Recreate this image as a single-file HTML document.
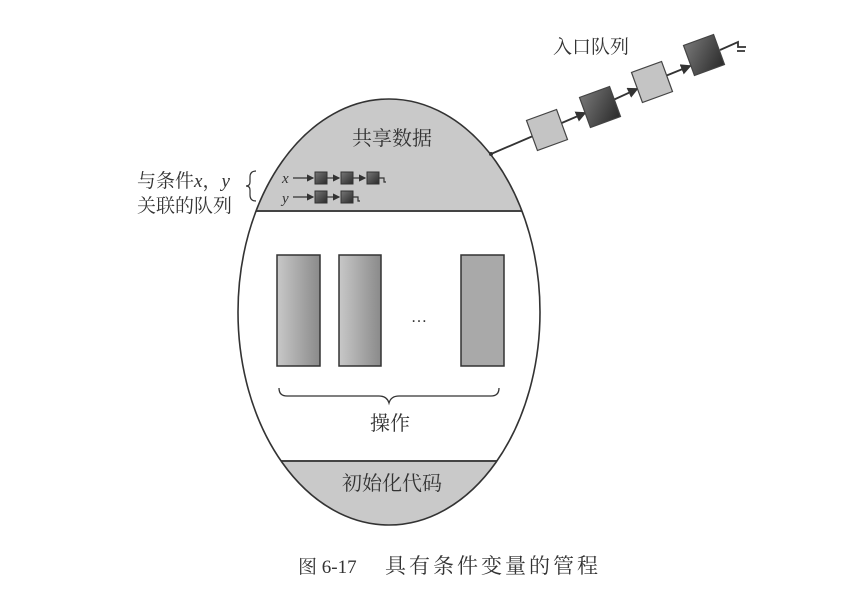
<!DOCTYPE html>
<html><head><meta charset="utf-8"><style>
html,body{margin:0;padding:0;background:#fff;}
svg{display:block;}
text{font-family:"Liberation Serif","Noto Serif CJK SC",serif;fill:#333;}
</style></head><body>
<svg width="857" height="601" viewBox="0 0 857 601" xmlns="http://www.w3.org/2000/svg">
<defs>
<clipPath id="ell"><ellipse cx="389" cy="312" rx="151" ry="213"/></clipPath>
<linearGradient id="rg" x1="0" x2="1" y1="0" y2="0"><stop offset="0" stop-color="#c8c8c8"/><stop offset="1" stop-color="#8a8a8a"/></linearGradient>
<linearGradient id="dg" x1="0" x2="1" y1="0" y2="1"><stop offset="0" stop-color="#777"/><stop offset="1" stop-color="#2a2a2a"/></linearGradient>
<marker id="ah" markerWidth="6" markerHeight="6" refX="5" refY="3" orient="auto"><path d="M0,0 L6,3 L0,6z" fill="#333"/></marker>
</defs>
<g clip-path="url(#ell)">
<rect x="230" y="90" width="320" height="121" fill="#c9c9c9"/>
<rect x="230" y="461" width="320" height="70" fill="#c9c9c9"/>
<line x1="230" y1="211" x2="550" y2="211" stroke="#444" stroke-width="2"/>
<line x1="230" y1="461" x2="550" y2="461" stroke="#444" stroke-width="2"/>
</g>
<ellipse cx="389" cy="312" rx="151" ry="213" fill="none" stroke="#333" stroke-width="1.6"/>
<text x="392" y="145" font-size="20" text-anchor="middle">共享数据</text>
<text x="282" y="183" font-size="15" font-style="italic">x</text>
<text x="282" y="203" font-size="15" font-style="italic">y</text>
<g stroke="#333" stroke-width="1.2" fill="none">
<line x1="293" y1="178" x2="313" y2="178" marker-end="url(#ah)"/>
<line x1="326" y1="178" x2="339" y2="178" marker-end="url(#ah)"/>
<line x1="352" y1="178" x2="365" y2="178" marker-end="url(#ah)"/>
<path d="M378,178 h6 v4 h2"/>
<line x1="293" y1="197" x2="313" y2="197" marker-end="url(#ah)"/>
<line x1="326" y1="197" x2="339" y2="197" marker-end="url(#ah)"/>
<path d="M352,197 h6 v4 h2"/>
</g>
<g fill="url(#dg)" stroke="#333" stroke-width="1">
<rect x="315" y="172" width="12" height="12"/><rect x="341" y="172" width="12" height="12"/><rect x="367" y="172" width="12" height="12"/>
<rect x="315" y="191" width="12" height="12"/><rect x="341" y="191" width="12" height="12"/>
</g>
<text x="137" y="187" font-size="19">与条件<tspan font-style="italic">x</tspan>，<tspan font-style="italic">y</tspan></text>
<text x="137" y="212" font-size="19">关联的队列</text>
<path d="M256,171 q-6,0 -6,6 v5 q0,4 -4,4 q4,0 4,4 v5 q0,6 6,6" fill="none" stroke="#333" stroke-width="1.2"/>
<rect x="277" y="255" width="43" height="111" fill="url(#rg)" stroke="#333" stroke-width="1.5"/>
<rect x="339" y="255" width="42" height="111" fill="url(#rg)" stroke="#333" stroke-width="1.5"/>
<rect x="461" y="255" width="43" height="111" fill="#a9a9a9" stroke="#333" stroke-width="1.5"/>
<text x="419" y="322" font-size="16" text-anchor="middle">…</text>
<path d="M279,388 q0,8 8,8 h92 q8,0 10,7 q2,-7 10,-7 h92 q8,0 8,-8" fill="none" stroke="#333" stroke-width="1.3"/>
<text x="390" y="430" font-size="20" text-anchor="middle">操作</text>
<text x="392" y="490" font-size="20" text-anchor="middle">初始化代码</text>
<text x="553" y="53" font-size="19">入口队列</text>
<g stroke="#333" stroke-width="1.8" fill="none">
<line x1="491" y1="154" x2="540" y2="133"/>
<line x1="557" y1="125" x2="585" y2="113" marker-end="url(#ah)"/>
<line x1="611" y1="101" x2="637" y2="89" marker-end="url(#ah)"/>
<line x1="663" y1="77" x2="690" y2="66" marker-end="url(#ah)"/>
<path d="M720,50 l18,-8 v5 h8 M737,51 h8"/>
</g>
<g stroke="#444" stroke-width="1.2">
<rect x="531" y="114" width="32" height="32" fill="#c4c4c4" transform="rotate(-20 547 130)"/>
<rect x="584" y="91" width="32" height="32" fill="url(#dg)" transform="rotate(-20 600 107)"/>
<rect x="636" y="66" width="32" height="32" fill="#c4c4c4" transform="rotate(-20 652 82)"/>
<rect x="688" y="39" width="32" height="32" fill="url(#dg)" transform="rotate(-20 704 55)"/>
</g>
<circle cx="491" cy="154" r="2" fill="#333"/>
<text x="298" y="573" font-size="19">图 6-17<tspan x="385" font-size="21" letter-spacing="3">具有条件变量的管程</tspan></text>
</svg>
</body></html>
